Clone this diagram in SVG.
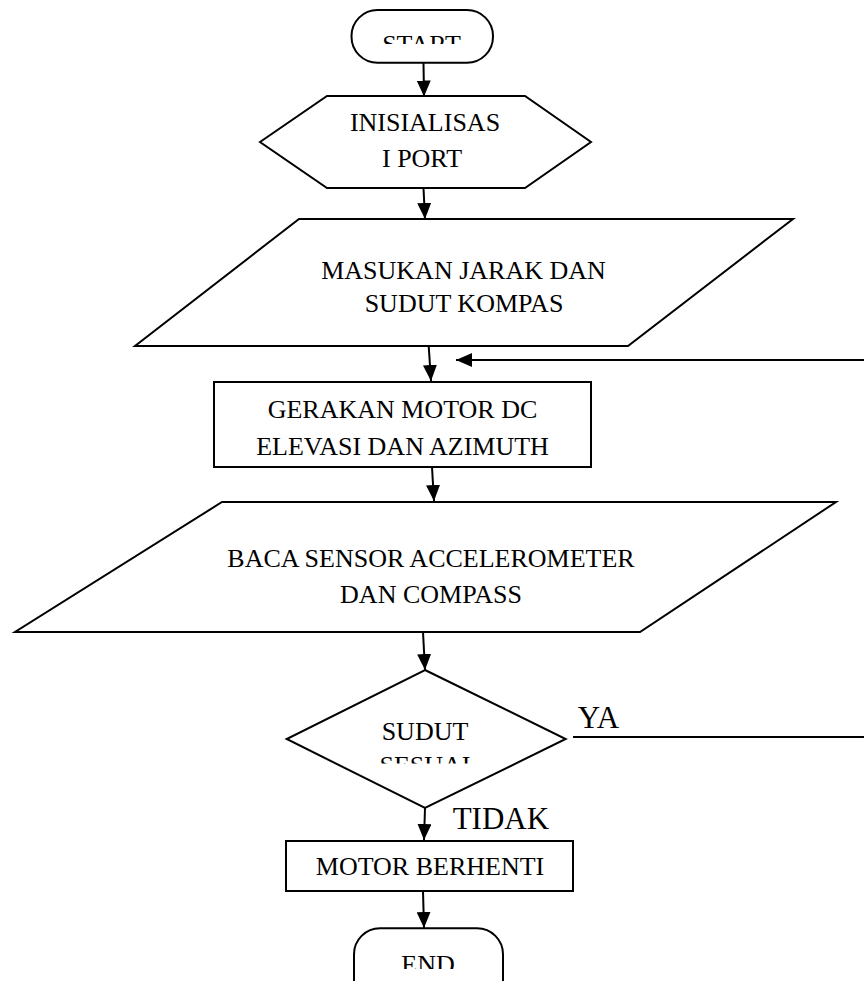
<svg xmlns="http://www.w3.org/2000/svg" width="864" height="981" viewBox="0 0 864 981">
<style>
.s{fill:#fff;stroke:#000;stroke-width:2}
.t{font-family:"Liberation Serif","Times New Roman",serif;font-size:26px;text-anchor:middle;fill:#000}
.l{font-family:"Liberation Serif","Times New Roman",serif;font-size:31px;fill:#000}
.c{stroke:#000;stroke-width:2;fill:none}
.a{marker-end:url(#arr)}
</style>
<defs>
<marker id="arr" markerUnits="userSpaceOnUse" markerWidth="16" markerHeight="14" refX="16" refY="7" orient="auto">
<path d="M0,0 L16,7 L0,14 z" fill="#000"/>
</marker>
<clipPath id="cStart"><rect x="340" y="0" width="170" height="44"/></clipPath>
<clipPath id="cSesuai"><rect x="290" y="690" width="270" height="73.5"/></clipPath>
<clipPath id="cEnd"><rect x="340" y="920" width="180" height="49"/></clipPath>
</defs>
<rect width="864" height="981" fill="#fff"/>
<g id="connectors">
<line class="c a" x1="423.5" y1="63" x2="424" y2="96.5"/>
<line class="c a" x1="423.5" y1="188" x2="425" y2="219"/>
<line class="c a" x1="428.7" y1="346" x2="431" y2="381"/>
<line class="c a" x1="864" y1="360" x2="456" y2="360"/>
<line class="c a" x1="432" y1="467" x2="434" y2="501"/>
<line class="c a" x1="423" y1="632" x2="425" y2="670"/>
<line class="c a" x1="425" y1="808" x2="424" y2="840"/>
<line class="c" x1="573" y1="737" x2="864" y2="737"/>
<line class="c a" x1="423" y1="891" x2="424" y2="928"/>
</g>
<g id="start">
<rect class="s" x="351.5" y="10" width="141.5" height="52.7" rx="26" ry="26"/>
<text class="t" x="421.5" y="52.5" clip-path="url(#cStart)">START</text>
</g>
<g id="init">
<polygon class="s" points="260,142 327,96 525,96 591,142 525,188 327,188"/>
<text class="t" x="425" y="130.7">INISIALISAS</text>
<text class="t" x="422" y="166.7">I PORT</text>
</g>
<g id="input">
<polygon class="s" points="299,219 793,219 628,346 135,346"/>
<text class="t" x="463.5" y="279">MASUKAN JARAK DAN</text>
<text class="t" x="464" y="312">SUDUT KOMPAS</text>
</g>
<g id="gerak">
<rect class="s" x="214" y="382" width="377" height="85"/>
<text class="t" x="402.5" y="418.3">GERAKAN MOTOR DC</text>
<text class="t" x="402.5" y="455">ELEVASI DAN AZIMUTH</text>
</g>
<g id="baca">
<polygon class="s" points="222,502 836,502 640,632 15,632"/>
<text class="t" x="431" y="566.7">BACA SENSOR ACCELEROMETER</text>
<text class="t" x="431" y="603">DAN COMPASS</text>
</g>
<g id="decision">
<polygon class="s" points="425,670 565.7,739 425,808 286.7,739"/>
<text class="t" x="425" y="740">SUDUT</text>
<text class="t" x="425" y="774" clip-path="url(#cSesuai)">SESUAI</text>
<text class="l" x="577.7" y="728">YA</text>
<text class="l" x="452.7" y="829.3">TIDAK</text>
</g>
<g id="stop">
<rect class="s" x="286" y="841" width="287" height="50"/>
<text class="t" x="430" y="875">MOTOR BERHENTI</text>
</g>
<g id="end">
<rect class="s" x="354" y="928.3" width="149" height="90" rx="26" ry="26"/>
<text class="t" x="428" y="973" clip-path="url(#cEnd)">END</text>
</g>
</svg>
